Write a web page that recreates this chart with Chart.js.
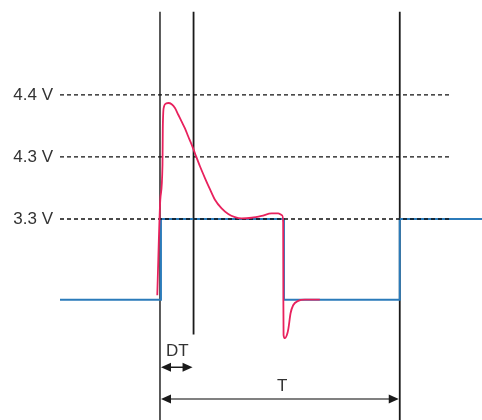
<!DOCTYPE html>
<html>
<head>
<meta charset="utf-8">
<script src="https://cdn.jsdelivr.net/npm/chart.js@4.4.1/dist/chart.umd.min.js"></script>
<style>
  html, body { margin: 0; padding: 0; background: #fff; }
  #wrap { width: 482px; height: 420px; }
</style>
</head>
<body>
<div id="wrap"><canvas id="chart"></canvas></div>
<script>
// Levels are schematic: 3.3 V = 1, 4.3 V = 2, 4.4 V = 3 (axis is not to scale)
const tickLevels = [1, 2, 3];
const tickLabels = ["3.3 V", "4.3 V", "4.4 V"];

// Time in % of period T (rising edge at 0, next rising edge at T = 100)
const dtTime = 14;
const periodTime = 100;

// Ideal square signal (blue)
const squareTimes  = [-41.7, 0.4, 0.4, 51.7, 51.7, 100, 100, 134.3];
const squareLevels = [-0.3, -0.3, 1, 1, -0.3, -0.3, 1, 1];

// Real signal with overshoot (red)
const realTimes = [-1.13, 0.13, 1.04, 1.17, 1.38, 1.67, 2.08, 3.46, 4.88, 6.25, 7.63, 9.04, 10.42,
  11.79, 13.21, 14.58, 16.67, 18.75, 20.83, 22.92, 25.71, 28.46, 31.25, 34.04, 38.21, 42.38,
  46.54, 49.29, 50.96, 51.38, 51.46, 51.54, 52.08, 52.92, 53.54, 54.46, 55.54, 57.63, 60.4, 66.67];
const realLevels = [-0.23, 1.31, 1.87, 2.44, 2.73, 2.81, 2.85, 2.87, 2.85, 2.79, 2.68, 2.57, 2.46,
  2.33, 2.2, 2.06, 1.85, 1.66, 1.48, 1.31, 1.17, 1.08, 1.03, 1.01, 1.02, 1.05,
  1.09, 1.09, 1.06, 0.95, -0.31, -0.87, -0.92, -0.87, -0.77, -0.52, -0.39, -0.32, -0.3, -0.3];

// Vertical markers: start, DT, T
const markerTimes = [0, dtTime, periodTime];
const markerTop = 4.34;
const markerBottoms = [-2.24, -0.86, -2.24];
const markerColors = ["#4a4a4a", "#1a1a1a", "#1a1a1a"];

// Dashed reference lines end
const refEnd = 121.5;

const toPoints = (xs, ys) => xs.map((x, i) => ({ x: x, y: ys[i] }));

const datasets = [];

// red on top
datasets.push({
  data: toPoints(realTimes, realLevels),
  borderColor: "#e8215d",
  borderWidth: 1.8,
  pointRadius: 0,
  cubicInterpolationMode: "monotone",
  order: 0
});

// dashed reference lines
tickLevels.forEach(lv => {
  datasets.push({
    data: [{ x: -41.7, y: lv }, { x: refEnd, y: lv }],
    borderColor: "#111",
    borderWidth: 1.3,
    borderDash: [4, 3],
    pointRadius: 0,
    order: 1
  });
});

// blue square
datasets.push({
  data: toPoints(squareTimes, squareLevels),
  borderColor: "#2b7bba",
  borderWidth: 2,
  pointRadius: 0,
  order: 2
});

// vertical markers
markerTimes.forEach((t, i) => {
  datasets.push({
    data: [{ x: t, y: markerTop }, { x: t, y: markerBottoms[i] }],
    borderColor: markerColors[i],
    borderWidth: 1.8,
    pointRadius: 0,
    order: 3
  });
});

// Arrows and labels DT / T
function arrowHead(ctx, x, y, dir) {
  ctx.beginPath();
  ctx.moveTo(x, y);
  ctx.lineTo(x - dir * 10, y - 4.5);
  ctx.lineTo(x - dir * 10, y + 4.5);
  ctx.closePath();
  ctx.fill();
}

const annotations = {
  id: "annotations",
  afterDatasetsDraw(chart) {
    const ctx = chart.ctx;
    const xs = chart.scales.x, ys = chart.scales.y;
    const x0 = xs.getPixelForValue(0);
    const xDT = xs.getPixelForValue(dtTime);
    const xT = xs.getPixelForValue(periodTime);
    const yDT = ys.getPixelForValue(-1.39);
    const yT = ys.getPixelForValue(-1.9);

    ctx.save();
    // DT arrow
    ctx.strokeStyle = "#1a1a1a";
    ctx.fillStyle = "#1a1a1a";
    ctx.lineWidth = 1.5;
    ctx.beginPath();
    ctx.moveTo(x0 + 6, yDT);
    ctx.lineTo(xDT - 6, yDT);
    ctx.stroke();
    arrowHead(ctx, x0 + 1, yDT, -1);
    arrowHead(ctx, xDT - 1, yDT, 1);

    // T arrow
    ctx.strokeStyle = "#808080";
    ctx.lineWidth = 2;
    ctx.beginPath();
    ctx.moveTo(x0 + 6, yT);
    ctx.lineTo(xT - 6, yT);
    ctx.stroke();
    arrowHead(ctx, x0 + 1, yT, -1);
    arrowHead(ctx, xT - 1, yT, 1);

    // labels
    ctx.fillStyle = "#333";
    ctx.font = "17px 'Liberation Sans', Arial, sans-serif";
    ctx.textAlign = "center";
    ctx.textBaseline = "middle";
    ctx.fillText("DT", xs.getPixelForValue(7.2), ys.getPixelForValue(-1.13));
    ctx.fillText("T", xs.getPixelForValue(51), ys.getPixelForValue(-1.69));
    ctx.restore();
  }
};

new Chart(document.getElementById("chart"), {
  type: "line",
  data: { datasets: datasets },
  options: {
    responsive: true,
    maintainAspectRatio: false,
    animation: false,
    layout: { padding: 0 },
    plugins: { legend: { display: false }, tooltip: { enabled: false } },
    elements: { line: { tension: 0 } },
    scales: {
      x: { type: "linear", min: -41.7, max: 134.3, display: false },
      y: {
        type: "linear",
        min: -2.24,
        max: 4.53,
        grid: { display: false, drawTicks: false },
        border: { display: false },
        afterBuildTicks: scale => {
          scale.ticks = tickLevels.map(v => ({ value: v }));
        },
        afterFit: scale => {
          scale.width = 60;
          scale.paddingTop = 0;
          scale.paddingBottom = 0;
        },
        ticks: {
          padding: 7,
          color: "#333",
          font: { family: "'Liberation Sans', Arial, sans-serif", size: 17 },
          callback: v => tickLabels[tickLevels.indexOf(v)]
        }
      }
    }
  },
  plugins: [annotations]
});
</script>
</body>
</html>
